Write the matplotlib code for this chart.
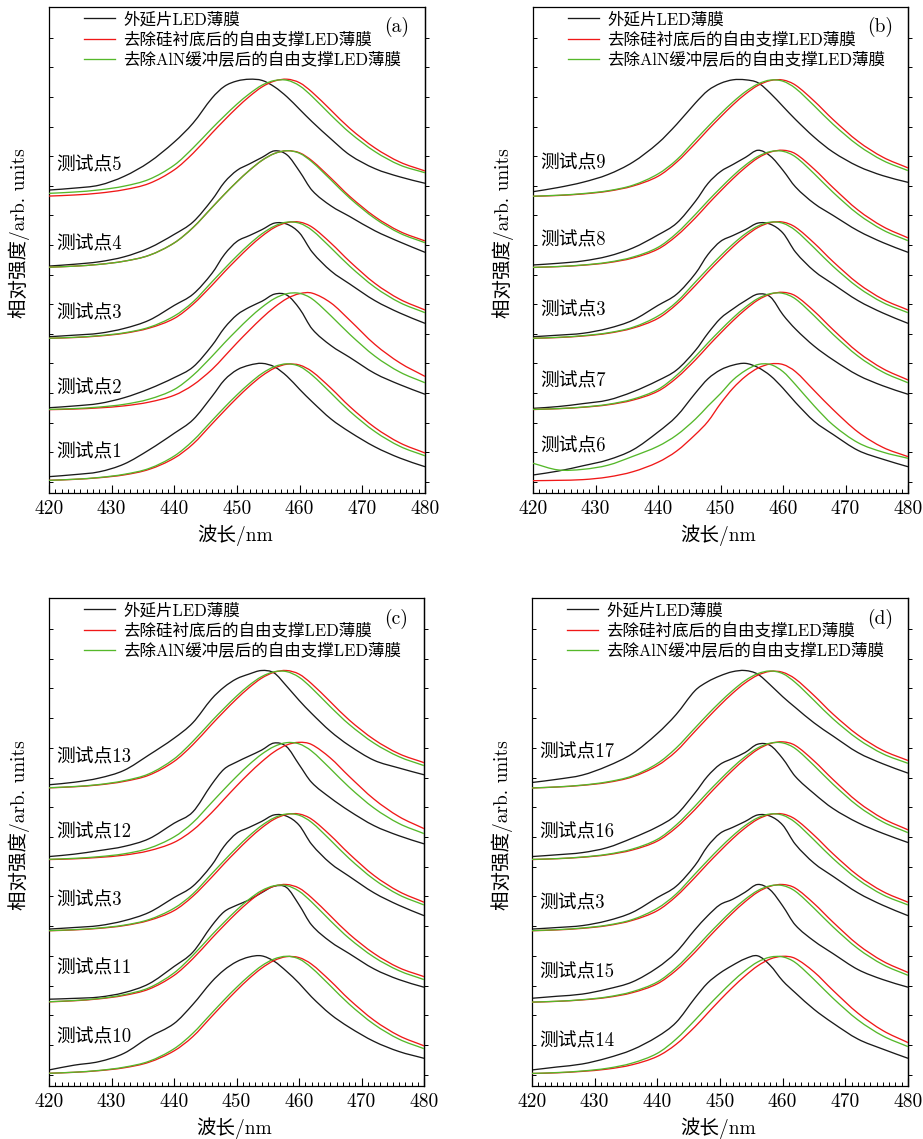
import matplotlib
matplotlib.use("Agg")
import matplotlib.pyplot as plt
from matplotlib.path import Path
from matplotlib.patches import PathPatch
from matplotlib.ticker import MultipleLocator, FixedLocator, FuncFormatter
import warnings
warnings.filterwarnings("ignore")

plt.rcParams['font.family'] = ['cmr10', 'Noto Sans CJK SC', 'DejaVu Sans']
plt.rcParams['axes.unicode_minus'] = False

# ---------------- data ----------------
wavelength = [420, 424, 428, 432, 436, 440, 443, 446, 448, 450, 452,
              454, 456, 458, 460, 462, 465, 468, 472, 476, 480]

legend_labels = ['外延片LED薄膜', '去除硅衬底后的自由支撑LED薄膜', '去除AlN缓冲层后的自由支撑LED薄膜']
panel_letters = ['(a)', '(b)', '(c)', '(d)']
panel_points = [[1, 2, 3, 4, 5], [6, 7, 3, 8, 9], [10, 11, 3, 12, 13], [14, 15, 3, 16, 17]]
stack_offsets = [0.0, 0.6, 1.2, 1.8, 2.4]
x_ticks = [420, 430, 440, 450, 460, 470, 480]

# normalized intensities (peak = 1)
tp1_black = [0.043, 0.060, 0.084, 0.150, 0.270, 0.410, 0.525, 0.720, 0.860, 0.945, 0.985, 1.000, 0.970, 0.890, 0.780, 0.675, 0.530, 0.420, 0.295, 0.200, 0.127]
tp1_red = [0.012, 0.020, 0.034, 0.058, 0.105, 0.200, 0.320, 0.488, 0.600, 0.708, 0.808, 0.895, 0.960, 0.993, 0.985, 0.930, 0.790, 0.635, 0.458, 0.328, 0.243]
tp1_green = [0.012, 0.021, 0.036, 0.063, 0.113, 0.218, 0.348, 0.516, 0.628, 0.734, 0.831, 0.915, 0.973, 0.996, 0.974, 0.900, 0.749, 0.595, 0.424, 0.299, 0.219]

tp2_black = [0.025, 0.040, 0.061, 0.110, 0.185, 0.280, 0.370, 0.550, 0.700, 0.810, 0.875, 0.925, 0.985, 0.975, 0.860, 0.690, 0.550, 0.450, 0.315, 0.220, 0.139]
tp2_red = [0.009, 0.014, 0.024, 0.041, 0.073, 0.131, 0.218, 0.348, 0.459, 0.573, 0.681, 0.784, 0.875, 0.948, 0.989, 0.993, 0.910, 0.764, 0.560, 0.404, 0.290]
tp2_green = [0.011, 0.018, 0.031, 0.054, 0.098, 0.180, 0.300, 0.459, 0.573, 0.681, 0.784, 0.875, 0.948, 0.989, 0.991, 0.944, 0.801, 0.645, 0.461, 0.326, 0.236]

tp3_black = [0.025, 0.038, 0.054, 0.095, 0.165, 0.290, 0.385, 0.560, 0.720, 0.830, 0.880, 0.930, 0.985, 0.975, 0.900, 0.740, 0.580, 0.470, 0.330, 0.225, 0.138]
tp3_red = [0.011, 0.018, 0.031, 0.054, 0.098, 0.180, 0.300, 0.459, 0.573, 0.681, 0.784, 0.875, 0.948, 0.989, 0.993, 0.950, 0.815, 0.660, 0.476, 0.341, 0.251]
tp3_green = [0.012, 0.020, 0.034, 0.058, 0.105, 0.200, 0.320, 0.488, 0.600, 0.708, 0.808, 0.895, 0.960, 0.993, 0.983, 0.923, 0.775, 0.620, 0.443, 0.313, 0.228]

tp4_black = [0.022, 0.037, 0.058, 0.100, 0.175, 0.290, 0.395, 0.580, 0.730, 0.830, 0.885, 0.940, 0.995, 0.960, 0.820, 0.660, 0.530, 0.440, 0.320, 0.225, 0.138]
tp4_red = [0.012, 0.021, 0.036, 0.063, 0.113, 0.218, 0.348, 0.516, 0.628, 0.734, 0.831, 0.915, 0.973, 0.996, 0.978, 0.910, 0.764, 0.610, 0.439, 0.314, 0.234]
tp4_green = [0.012, 0.021, 0.036, 0.063, 0.113, 0.218, 0.348, 0.516, 0.628, 0.734, 0.831, 0.915, 0.973, 0.996, 0.974, 0.900, 0.749, 0.595, 0.424, 0.299, 0.219]

tp5_black = [0.064, 0.080, 0.105, 0.180, 0.300, 0.470, 0.630, 0.840, 0.940, 0.985, 1.000, 0.990, 0.935, 0.850, 0.745, 0.640, 0.495, 0.360, 0.245, 0.175, 0.121]
tp5_red = [0.013, 0.022, 0.038, 0.067, 0.120, 0.235, 0.375, 0.545, 0.655, 0.760, 0.855, 0.935, 0.985, 1.000, 0.970, 0.890, 0.738, 0.585, 0.420, 0.300, 0.225]
tp5_green = [0.036, 0.047, 0.065, 0.097, 0.155, 0.275, 0.420, 0.585, 0.690, 0.790, 0.878, 0.950, 0.989, 0.991, 0.944, 0.854, 0.696, 0.548, 0.389, 0.275, 0.210]

tp6_black = [0.057, 0.090, 0.135, 0.185, 0.270, 0.420, 0.555, 0.750, 0.870, 0.945, 0.985, 1.000, 0.965, 0.895, 0.790, 0.670, 0.510, 0.400, 0.265, 0.190, 0.127]
tp6_red = [0.009, 0.012, 0.018, 0.040, 0.085, 0.165, 0.260, 0.400, 0.510, 0.660, 0.790, 0.890, 0.960, 0.995, 0.990, 0.930, 0.770, 0.610, 0.420, 0.290, 0.212]
tp6_green = [0.156, 0.100, 0.105, 0.140, 0.215, 0.300, 0.395, 0.530, 0.640, 0.745, 0.860, 0.940, 0.990, 0.990, 0.930, 0.820, 0.640, 0.480, 0.330, 0.250, 0.198]

tp7_black = [0.020, 0.035, 0.060, 0.090, 0.160, 0.255, 0.345, 0.510, 0.655, 0.780, 0.860, 0.930, 0.985, 0.960, 0.810, 0.690, 0.545, 0.430, 0.300, 0.210, 0.139]
tp7_red = [0.010, 0.017, 0.029, 0.050, 0.090, 0.165, 0.278, 0.430, 0.545, 0.655, 0.760, 0.855, 0.935, 0.985, 1.000, 0.970, 0.840, 0.685, 0.495, 0.355, 0.260]
tp7_green = [0.011, 0.018, 0.031, 0.054, 0.098, 0.180, 0.300, 0.459, 0.573, 0.681, 0.784, 0.875, 0.948, 0.989, 0.991, 0.944, 0.801, 0.645, 0.461, 0.326, 0.236]

tp8_black = [0.031, 0.045, 0.065, 0.105, 0.175, 0.285, 0.385, 0.570, 0.720, 0.820, 0.880, 0.940, 1.000, 0.950, 0.830, 0.690, 0.550, 0.450, 0.320, 0.220, 0.138]
tp8_red = [0.010, 0.017, 0.029, 0.050, 0.090, 0.165, 0.278, 0.430, 0.545, 0.655, 0.760, 0.855, 0.935, 0.985, 1.000, 0.970, 0.840, 0.685, 0.495, 0.355, 0.260]
tp8_green = [0.011, 0.018, 0.031, 0.054, 0.098, 0.180, 0.300, 0.459, 0.573, 0.681, 0.784, 0.875, 0.948, 0.989, 0.991, 0.944, 0.801, 0.645, 0.461, 0.326, 0.236]

tp9_black = [0.050, 0.085, 0.130, 0.195, 0.300, 0.460, 0.620, 0.800, 0.905, 0.965, 0.995, 0.995, 0.970, 0.880, 0.770, 0.660, 0.510, 0.385, 0.265, 0.185, 0.129]
tp9_red = [0.011, 0.018, 0.031, 0.054, 0.098, 0.180, 0.300, 0.459, 0.573, 0.681, 0.784, 0.875, 0.948, 0.989, 0.993, 0.950, 0.815, 0.660, 0.476, 0.341, 0.251]
tp9_green = [0.012, 0.020, 0.034, 0.058, 0.105, 0.200, 0.320, 0.488, 0.600, 0.708, 0.808, 0.895, 0.960, 0.993, 0.983, 0.923, 0.775, 0.620, 0.443, 0.313, 0.228]

tp10_black = [0.040, 0.080, 0.110, 0.180, 0.315, 0.430, 0.590, 0.780, 0.880, 0.950, 0.990, 1.000, 0.955, 0.870, 0.770, 0.655, 0.510, 0.400, 0.280, 0.195, 0.138]
tp10_red = [0.012, 0.020, 0.034, 0.058, 0.105, 0.200, 0.320, 0.488, 0.600, 0.708, 0.808, 0.895, 0.960, 0.993, 0.985, 0.930, 0.790, 0.635, 0.458, 0.328, 0.243]
tp10_green = [0.012, 0.021, 0.036, 0.063, 0.113, 0.218, 0.348, 0.516, 0.628, 0.734, 0.831, 0.915, 0.973, 0.996, 0.974, 0.900, 0.749, 0.595, 0.424, 0.299, 0.219]

tp11_black = [0.035, 0.042, 0.053, 0.090, 0.165, 0.310, 0.430, 0.650, 0.770, 0.825, 0.870, 0.930, 0.985, 0.975, 0.830, 0.660, 0.520, 0.420, 0.290, 0.200, 0.136]
tp11_red = [0.013, 0.022, 0.038, 0.067, 0.120, 0.235, 0.375, 0.545, 0.655, 0.760, 0.855, 0.935, 0.985, 1.000, 0.970, 0.890, 0.738, 0.585, 0.420, 0.300, 0.225]
tp11_green = [0.014, 0.024, 0.041, 0.073, 0.131, 0.256, 0.403, 0.573, 0.681, 0.784, 0.875, 0.948, 0.989, 0.991, 0.944, 0.854, 0.696, 0.548, 0.389, 0.275, 0.200]

tp12_black = [0.035, 0.055, 0.085, 0.120, 0.185, 0.315, 0.410, 0.640, 0.770, 0.830, 0.880, 0.930, 0.990, 0.960, 0.810, 0.660, 0.530, 0.420, 0.295, 0.210, 0.142]
tp12_red = [0.010, 0.016, 0.028, 0.047, 0.084, 0.154, 0.256, 0.403, 0.516, 0.628, 0.734, 0.831, 0.915, 0.973, 0.996, 0.978, 0.865, 0.711, 0.518, 0.371, 0.270]
tp12_green = [0.012, 0.020, 0.034, 0.058, 0.105, 0.200, 0.320, 0.488, 0.600, 0.708, 0.808, 0.895, 0.960, 0.993, 0.983, 0.923, 0.775, 0.620, 0.443, 0.313, 0.228]

tp13_black = [0.039, 0.060, 0.095, 0.160, 0.290, 0.430, 0.560, 0.760, 0.860, 0.930, 0.970, 1.000, 0.980, 0.870, 0.750, 0.640, 0.490, 0.370, 0.245, 0.180, 0.123]
tp13_red = [0.013, 0.022, 0.038, 0.067, 0.120, 0.235, 0.375, 0.545, 0.655, 0.760, 0.855, 0.935, 0.985, 1.000, 0.970, 0.890, 0.738, 0.585, 0.420, 0.300, 0.225]
tp13_green = [0.014, 0.024, 0.041, 0.073, 0.131, 0.256, 0.403, 0.573, 0.681, 0.784, 0.875, 0.948, 0.989, 0.991, 0.944, 0.854, 0.696, 0.548, 0.389, 0.275, 0.200]

tp14_black = [0.040, 0.065, 0.090, 0.140, 0.210, 0.320, 0.440, 0.645, 0.770, 0.855, 0.920, 0.975, 1.000, 0.920, 0.790, 0.690, 0.550, 0.435, 0.300, 0.215, 0.138]
tp14_red = [0.010, 0.016, 0.028, 0.047, 0.084, 0.154, 0.256, 0.403, 0.516, 0.628, 0.734, 0.831, 0.915, 0.973, 0.996, 0.978, 0.865, 0.711, 0.518, 0.371, 0.270]
tp14_green = [0.011, 0.018, 0.031, 0.054, 0.098, 0.180, 0.300, 0.459, 0.573, 0.681, 0.784, 0.875, 0.948, 0.989, 0.991, 0.944, 0.801, 0.645, 0.461, 0.326, 0.236]

tp15_black = [0.043, 0.060, 0.078, 0.120, 0.180, 0.300, 0.430, 0.620, 0.735, 0.830, 0.875, 0.935, 1.000, 0.955, 0.820, 0.660, 0.525, 0.420, 0.285, 0.200, 0.136]
tp15_red = [0.010, 0.017, 0.029, 0.050, 0.090, 0.165, 0.278, 0.430, 0.545, 0.655, 0.760, 0.855, 0.935, 0.985, 1.000, 0.970, 0.840, 0.685, 0.495, 0.355, 0.260]
tp15_green = [0.011, 0.018, 0.031, 0.054, 0.098, 0.180, 0.300, 0.459, 0.573, 0.681, 0.784, 0.875, 0.948, 0.989, 0.991, 0.944, 0.801, 0.645, 0.461, 0.326, 0.236]

tp16_black = [0.035, 0.050, 0.068, 0.110, 0.190, 0.285, 0.385, 0.570, 0.710, 0.810, 0.860, 0.910, 0.980, 0.970, 0.860, 0.710, 0.565, 0.440, 0.320, 0.230, 0.153]
tp16_red = [0.010, 0.017, 0.029, 0.050, 0.090, 0.165, 0.278, 0.430, 0.545, 0.655, 0.760, 0.855, 0.935, 0.985, 1.000, 0.970, 0.840, 0.685, 0.495, 0.355, 0.260]
tp16_green = [0.011, 0.018, 0.031, 0.054, 0.098, 0.180, 0.300, 0.459, 0.573, 0.681, 0.784, 0.875, 0.948, 0.989, 0.991, 0.944, 0.801, 0.645, 0.461, 0.326, 0.236]

tp17_black = [0.058, 0.085, 0.120, 0.195, 0.300, 0.470, 0.630, 0.830, 0.905, 0.955, 0.990, 1.000, 0.970, 0.880, 0.780, 0.690, 0.560, 0.450, 0.310, 0.215, 0.137]
tp17_red = [0.012, 0.020, 0.034, 0.058, 0.105, 0.200, 0.320, 0.488, 0.600, 0.708, 0.808, 0.895, 0.960, 0.993, 0.985, 0.930, 0.790, 0.635, 0.458, 0.328, 0.243]
tp17_green = [0.012, 0.021, 0.036, 0.063, 0.113, 0.218, 0.348, 0.516, 0.628, 0.734, 0.831, 0.915, 0.973, 0.996, 0.974, 0.900, 0.749, 0.595, 0.424, 0.299, 0.219]

spectra = {}
for _n in range(1, 18):
    spectra[_n] = (globals()['tp%d_black' % _n], globals()['tp%d_red' % _n], globals()['tp%d_green' % _n])

# ---------------- style / layout ----------------
line_colors = ['#1a1a1a', '#f01818', '#55b82a']
axes_rects = [
    [49 / 923, 1 - 493 / 1139, 376 / 923, 486 / 1139],
    [533 / 923, 1 - 493 / 1139, 375 / 923, 486 / 1139],
    [49 / 923, 1 - 1086 / 1139, 375 / 923, 488 / 1139],
    [532 / 923, 1 - 1086 / 1139, 376 / 923, 488 / 1139],
]
label_dy = [[0.243, 0.19, 0.225, 0.2, 0.275],
            [0.30, 0.245, 0.25, 0.24, 0.29],
            [0.315, 0.29, 0.265, 0.24, 0.27],
            [0.278, 0.26, 0.243, 0.24, 0.31]]


def smooth_path(xs, ys):
    """Cubic Hermite curve through the read points (drawn as Bezier segments)."""
    n = len(xs)
    m = []
    for i in range(n):
        if i == 0:
            m.append((ys[1] - ys[0]) / (xs[1] - xs[0]))
        elif i == n - 1:
            m.append((ys[-1] - ys[-2]) / (xs[-1] - xs[-2]))
        else:
            m.append((ys[i + 1] - ys[i - 1]) / (xs[i + 1] - xs[i - 1]))
    verts = [(xs[0], ys[0])]
    codes = [Path.MOVETO]
    for i in range(n - 1):
        h = xs[i + 1] - xs[i]
        verts += [(xs[i] + h / 3, ys[i] + m[i] * h / 3),
                  (xs[i + 1] - h / 3, ys[i + 1] - m[i + 1] * h / 3),
                  (xs[i + 1], ys[i + 1])]
        codes += [Path.CURVE4] * 3
    return Path(verts, codes)


fig = plt.figure(figsize=(9.23, 11.39), dpi=100)

for p in range(4):
    ax = fig.add_axes(axes_rects[p])
    for k, tp in enumerate(panel_points[p]):
        off = stack_offsets[k]
        for c in range(3):
            ys = [v + off for v in spectra[tp][c]]
            patch = PathPatch(smooth_path(wavelength, ys), facecolor='none',
                              edgecolor=line_colors[c], lw=0.95,
                              transform=ax.transData, zorder=2 + c)
            ax.add_patch(patch)
        ax.text(421.2, off + label_dy[p][k], '测试点%d' % tp, fontsize=13.5,
                va='center', ha='left', zorder=6)
    # legend proxies
    for c in range(3):
        ax.plot([], [], color=line_colors[c], lw=0.95, label=legend_labels[c])
    ax.legend(loc='upper left', bbox_to_anchor=(0.075, 1.004), frameon=False,
              fontsize=11.9, handlelength=1.9, handletextpad=0.5,
              labelspacing=0.26, borderaxespad=0.0)
    ax.text(0.925, 0.958, panel_letters[p], transform=ax.transAxes,
            fontsize=14, ha='center', va='center')

    ax.set_xlim(420, 480)
    ax.set_ylim(-0.095, 4.01)
    ax.xaxis.set_major_locator(FixedLocator(x_ticks))
    ax.xaxis.set_minor_locator(MultipleLocator(1))
    ax.xaxis.set_major_formatter(FuncFormatter(lambda v, pos: '%d' % round(v)))
    ax.set_yticks([i * 0.25 for i in range(16)])
    ax.tick_params(axis='x', which='major', direction='in', length=6, width=0.8,
                   labelsize=14, pad=5, top=False)
    ax.tick_params(axis='x', which='minor', direction='in', length=3, width=0.7, top=False)
    ax.tick_params(axis='y', which='major', direction='in', length=3, width=0.7,
                   left=True, right=False, labelleft=False)
    sec = ax.secondary_yaxis('right')
    sec.set_yticks([i * 0.25 for i in range(16)])
    sec.tick_params(axis='y', direction='out', length=3, width=0.7, labelright=False)
    sec.spines['right'].set_linewidth(0.9)
    for s in ax.spines.values():
        s.set_linewidth(0.9)
    ax.set_xlabel('波长/nm', fontsize=14)
    ax.xaxis.set_label_coords(0.495, -0.064)
    ax.set_ylabel('相对强度/arb. units', fontsize=14)
    ax.yaxis.set_label_coords(-0.05, 0.535)

fig.savefig('out.png', dpi=100)
